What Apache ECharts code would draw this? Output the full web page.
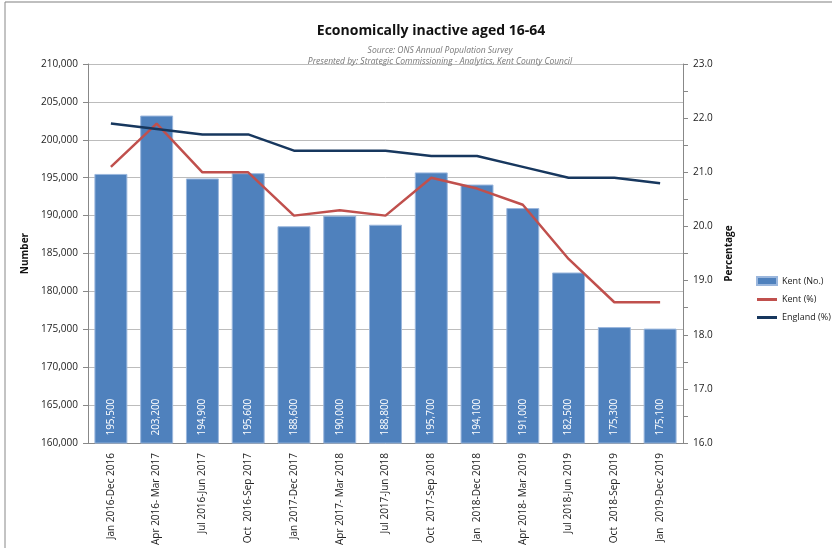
<!DOCTYPE html>
<html>
<head>
<meta charset="utf-8">
<script src="https://cdn.jsdelivr.net/npm/echarts@6/dist/echarts.min.js"></script>
<style>
  html, body { margin: 0; padding: 0; background: #fff; }
  #main { width: 832px; height: 548px; }
</style>
</head>
<body>
<div id="main"></div>
<script>
// periods on the x axis
var periods = [
  'Jan 2016-Dec 2016', 'Apr 2016- Mar 2017', 'Jul 2016-Jun 2017', 'Oct  2016-Sep 2017',
  'Jan 2017-Dec 2017', 'Apr 2017- Mar 2018', 'Jul 2017-Jun 2018', 'Oct  2017-Sep 2018',
  'Jan  2018-Dec 2018', 'Apr 2018- Mar 2019', 'Jul 2018-Jun 2019', 'Oct  2018-Sep 2019',
  'Jan  2019-Dec 2019'
];
// Kent number economically inactive
var kentNo = [195500, 203200, 194900, 195600, 188600, 190000, 188800, 195700, 194100, 191000, 182500, 175300, 175100];
// percentages
var kentPct = [21.1, 21.9, 21.0, 21.0, 20.2, 20.3, 20.2, 20.9, 20.7, 20.4, 19.4, 18.6, 18.6];
var englandPct = [21.9, 21.8, 21.7, 21.7, 21.4, 21.4, 21.4, 21.3, 21.3, 21.1, 20.9, 20.9, 20.8];

var chart = echarts.init(document.getElementById('main'));
var font = 'Open Sans, Noto Sans, sans-serif';
var lineIcon = 'path://M0,0 L20,0 L20,3 L0,3 Z';

var option = {
  backgroundColor: '#ffffff',
  animation: false,
  textStyle: { fontFamily: font },
  title: [
    {
      text: 'Economically inactive aged 16-64',
      left: 426, top: 19, textAlign: 'center',
      textStyle: { fontSize: 14, fontWeight: 'bold', color: '#111', fontFamily: font }
    },
    {
      text: 'Source: ONS Annual Population Survey\nPresented by: Strategic Commissioning - Analytics, Kent County Council',
      left: 435, top: 40, textAlign: 'center',
      textStyle: { fontSize: 8.5, fontStyle: 'italic', fontWeight: 'normal', color: '#777', lineHeight: 11 }
    }
  ],
  legend: {
    orient: 'vertical',
    left: 751, top: 271,
    itemGap: 9,
    itemWidth: 20, itemHeight: 8,
    textStyle: { fontSize: 9, color: '#222' },
    data: [
      { name: 'Kent (No.)', icon: 'rect' },
      { name: 'Kent (%)', icon: lineIcon },
      { name: 'England (%)', icon: lineIcon }
    ]
  },
  grid: { left: 88, right: 149, top: 64, bottom: 100 },
  xAxis: {
    type: 'category',
    data: periods,
    axisLine: { lineStyle: { color: '#888' } },
    axisTick: { length: 8, lineStyle: { color: '#888' } },
    axisLabel: { rotate: 90, fontSize: 10, color: '#222', margin: 10 }
  },
  yAxis: [
    {
      type: 'value',
      min: 160000, max: 210000, interval: 5000,
      name: 'Number',
      nameLocation: 'middle', nameGap: 58, nameRotate: 90,
      nameMoveOverlap: false,
      nameTextStyle: { fontSize: 10, fontWeight: 'bold', color: '#111' },
      axisLine: { show: true, lineStyle: { color: '#888' } },
      axisTick: { show: true, length: 5, lineStyle: { color: '#888' } },
      axisLabel: {
        fontSize: 10, color: '#222', margin: 10,
        formatter: function (v) { return v.toLocaleString('en-GB'); }
      },
      splitLine: { lineStyle: { color: '#bcbcbc' } }
    },
    {
      type: 'value',
      min: 16, max: 23, interval: 1,
      name: 'Percentage',
      nameLocation: 'middle', nameGap: 40, nameRotate: 90,
      nameTextStyle: { fontSize: 10, fontWeight: 'bold', color: '#111' },
      axisLine: { show: true, lineStyle: { color: '#888' } },
      axisTick: { show: true, length: 5, lineStyle: { color: '#888' } },
      minorTick: { show: true, splitNumber: 2, length: 5, lineStyle: { color: '#888' } },
      axisLabel: {
        fontSize: 10, color: '#222', margin: 10,
        formatter: function (v) { return v.toFixed(1); }
      },
      splitLine: { show: false }
    }
  ],
  series: [
    {
      name: 'Kent (No.)',
      type: 'bar',
      data: kentNo,
      barWidth: '72%',
      itemStyle: { color: '#4f81bd', borderColor: '#9bb7dd', borderWidth: 1 },
      label: {
        show: true,
        position: 'insideBottom',
        rotate: 90,
        align: 'left',
        verticalAlign: 'middle',
        distance: 8,
        fontSize: 10,
        color: '#ffffff',
        formatter: function (p) { return p.value.toLocaleString('en-GB'); }
      }
    },
    {
      name: 'Kent (%)',
      type: 'line',
      yAxisIndex: 1,
      data: kentPct,
      showSymbol: false,
      lineStyle: { color: '#c0504d', width: 2.5 },
      itemStyle: { color: '#c0504d' }
    },
    {
      name: 'England (%)',
      type: 'line',
      yAxisIndex: 1,
      data: englandPct,
      showSymbol: false,
      lineStyle: { color: '#17375e', width: 2.5 },
      itemStyle: { color: '#17375e' }
    }
  ],
  graphic: [
    { type: 'line', shape: { x1: 5, y1: 2, x2: 832, y2: 2 }, style: { stroke: '#aaa', lineWidth: 1.5 } },
    { type: 'line', shape: { x1: 5, y1: 2, x2: 5, y2: 548 }, style: { stroke: '#888', lineWidth: 1 } }
  ]
};

chart.setOption(option);
</script>
</body>
</html>
